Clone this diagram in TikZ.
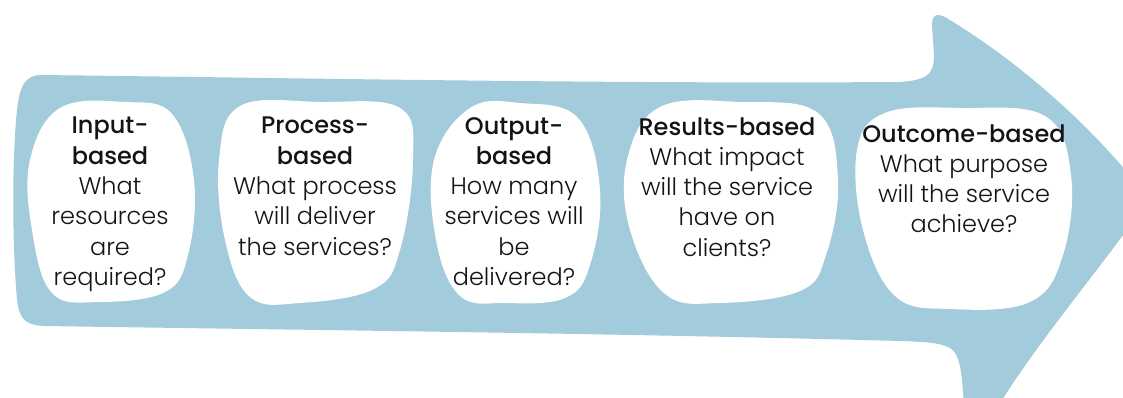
\documentclass[tikz,border=0pt]{standalone}
\usepackage{fontspec}
\setmainfont{Poppins Light}[BoldFont={Poppins Medium}]
\definecolor{arrowblue}{RGB}{162,203,219}
\definecolor{inktext}{RGB}{20,20,20}
\begin{document}
\begin{tikzpicture}[x=0.75pt,y=-0.75pt]
\tikzset{
  blob/.style={fill=white, draw=none},
  blobtext/.style={align=center, anchor=north, inner sep=0pt, text=inktext,
    font=\fontsize{18}{22.7}\selectfont},
}
\useasboundingbox (0,0) rectangle (1123,398);
\clip (0,0) rectangle (1123,398);
% big arrow
\fill[arrowblue] (40,75)
  .. controls (300,78) and (600,84) .. (900,82)
  .. controls (930,80) and (934,72) .. (934,55)
  -- (932,25)
  .. controls (932,15) and (936,13) .. (945,17)
  .. controls (1000,50) and (1080,110) .. (1149,199)
  .. controls (1100,270) and (1030,350) .. (990,420)
  -- (965,420)
  .. controls (962,380) and (962,355) .. (950,348)
  .. controls (940,343) and (930,342) .. (900,341)
  .. controls (600,333) and (300,330) .. (45,326)
  .. controls (25,325) and (20,320) .. (17,300)
  .. controls (12,240) and (12,160) .. (17,110)
  .. controls (20,85) and (25,76) .. (40,75) -- cycle;
% blobs
\fill[blob] plot[smooth cycle, tension=0.65] coordinates {
  (60,108) (125,102) (172,114) (194,180) (188,255) (165,292) (100,302)
  (52,293) (32,230) (30,160)};
\fill[blob] plot[smooth cycle, tension=0.65] coordinates {
  (240,106) (320,102) (400,108) (413,160) (400,250) (374,289) (300,303)
  (250,297) (225,240) (219,160)};
\fill[blob] plot[smooth cycle, tension=0.65] coordinates {
  (470,108) (520,103) (578,118) (600,190) (590,265) (565,298) (505,303)
  (460,296) (436,240) (434,160)};
\fill[blob] plot[smooth cycle, tension=0.65] coordinates {
  (660,107) (740,102) (818,113) (838,180) (826,255) (800,291) (720,303)
  (665,294) (630,230) (627,160)};
\fill[blob] plot[smooth cycle, tension=0.65] coordinates {
  (885,113) (960,108) (1045,116) (1071,175) (1063,255) (1030,302) (950,309)
  (895,296) (863,230) (857,150)};
% texts
\node[blobtext] (t1) at (110,117) {\textbf{Input-}\\\textbf{based}\\What\\resources\\are\\required?};
\node[blobtext] (t2) at (315,117) {\textbf{Process-}\\\textbf{based}\\What process\\will deliver\\the services?};
\node[blobtext] (t3) at (514,117) {\textbf{Output-}\\\textbf{based}\\How many\\services will\\be\\delivered?};
\node[blobtext] (t4) at (727,117) {\textbf{Results-based}\\What impact\\will the service\\have on\\clients?};
\node[blobtext] (t5) at (964,124) {\textbf{Outcome-based}\\What purpose\\will the service\\achieve?};
\end{tikzpicture}
\end{document}
